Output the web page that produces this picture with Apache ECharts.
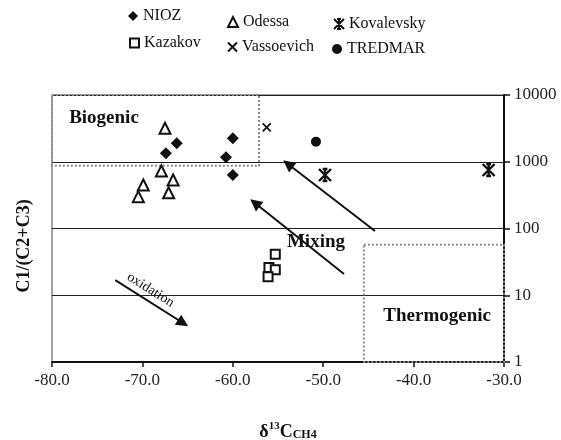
<!DOCTYPE html>
<html>
<head>
<meta charset="utf-8">
<script src="https://cdn.jsdelivr.net/npm/echarts@6/dist/echarts.min.js"></script>
<style>html,body{margin:0;padding:0;background:#fff}#c{width:561px;height:440px}</style>
</head>
<body>
<div id="c"></div>
<script>
// ---- data ----
var xTicks = [-80, -70, -60, -50, -40, -30];
var yTicks = [1, 10, 100, 1000, 10000];
var nioz = [[-66.2, 1890], [-60.0, 2245], [-67.4, 1340], [-60.75, 1166], [-60.0, 633]];
var odessa = [[-67.5, 3170], [-67.9, 727], [-66.6, 533], [-69.9, 448], [-67.1, 344], [-70.45, 300]];
var kovalevsky = [[-49.8, 633], [-31.7, 752]];
var kazakov = [[-55.3, 41], [-56.0, 26], [-55.3, 24], [-56.1, 19]];
var vassoevich = [[-56.25, 3280]];
var tredmar = [[-50.8, 2000]];
var biogenicBox = [[-80, 10000], [-57.1, 870]];
var thermogenicBox = [[-45.5, 57], [-30, 1]];
var oxidationArrow = [[-73.0, 16.9], [-65.5, 3.84]];
var mixingArrow1 = [[-47.7, 20.8], [-57.55, 241]];
var mixingArrow2 = [[-44.27, 91.8], [-53.9, 925]];
var labelsPos = {Biogenic: [-74.25, 4520], Mixing: [-50.8, 62.8], Thermogenic: [-37.4, 4.89], oxidation: [-69.1, 12.0]};

var FONT = '"Liberation Serif", "DejaVu Serif", serif';
var KOV = 'path://M0 0L10 10M10 0L0 10M5 0L5 10M3 0L7 0M3 10L7 10';
var VAS = 'path://M0 0L10 10M10 0L0 10';

var chart = echarts.init(document.getElementById('c'), null, {renderer: 'canvas'});

function legendAt(name, left, top, size) {
  return {
    data: [name], left: left, top: top, padding: 0, itemWidth: size || 10, itemHeight: size || 10, itemGap: 5,
    selectedMode: false,
    textStyle: {fontFamily: FONT, fontSize: 16, color: '#111'}
  };
}

var option = {
  animation: false,
  backgroundColor: '#fff',
  legend: [
    legendAt('NIOZ', 128, 8),
    legendAt('Odessa', 227, 14),
    legendAt('Kovalevsky', 333, 16),
    legendAt('Kazakov', 129, 35, 9),
    legendAt('Vassoevich', 227, 39, 9),
    legendAt('TREDMAR', 332, 41)
  ],
  grid: {left: 52, right: 57, top: 95, bottom: 78, show: true, borderColor: '#444', borderWidth: 1},
  xAxis: {
    type: 'value', min: -80, max: -30, interval: 10, position: 'bottom',
    axisLine: {show: true, onZero: false, lineStyle: {color: '#111', width: 2}},
    axisTick: {show: true, inside: false, length: 5, lineStyle: {color: '#111', width: 1.5}},
    axisLabel: {fontFamily: FONT, fontSize: 17, color: '#222', margin: 10,
      formatter: function (v) { return v.toFixed(1); }},
    splitLine: {show: false}
  },
  yAxis: {
    type: 'log', logBase: 10, min: 1, max: 10000, position: 'right',
    axisLine: {show: true, lineStyle: {color: '#111', width: 2}},
    axisTick: {show: true, inside: false, length: 6, lineStyle: {color: '#111', width: 1.5}},
    axisLabel: {fontFamily: FONT, fontSize: 17, color: '#222', margin: 10,
      formatter: function (v) { return String(Math.round(v)); }},
    splitLine: {show: true, lineStyle: {color: '#222', width: 1.2}},
    minorTick: {show: false}
  },
  series: [
    {
      name: 'areas', type: 'line', data: [], silent: true,
      markArea: {
        silent: true,
        itemStyle: {color: 'rgba(0,0,0,0)', borderColor: '#8a8a8a', borderWidth: 2, borderType: 'dotted'},
        data: [
          [{coord: biogenicBox[0]}, {coord: biogenicBox[1]}],
          [{coord: thermogenicBox[0]}, {coord: thermogenicBox[1]}]
        ]
      },
      markLine: {
        silent: true, symbol: ['none', 'triangle'], symbolSize: 12,
        label: {show: false},
        lineStyle: {color: '#111', width: 2, type: 'solid'},
        data: [
          [{coord: oxidationArrow[0]}, {coord: oxidationArrow[1]}],
          [{coord: mixingArrow1[0]}, {coord: mixingArrow1[1]}],
          [{coord: mixingArrow2[0]}, {coord: mixingArrow2[1]}]
        ]
      },
      markPoint: {
        silent: true, symbol: 'circle', symbolSize: 0,
        label: {show: true, position: 'inside', fontFamily: FONT, color: '#111'},
        data: [
          {coord: labelsPos.Biogenic, label: {formatter: 'Biogenic', fontSize: 19, fontWeight: 'bold'}},
          {coord: labelsPos.Mixing, label: {formatter: 'Mixing', fontSize: 19, fontWeight: 'bold'}},
          {coord: labelsPos.Thermogenic, label: {formatter: 'Thermogenic', fontSize: 19, fontWeight: 'bold'}},
          {coord: labelsPos.oxidation, label: {formatter: 'oxidation', fontSize: 14, rotate: -32}}
        ]
      }
    },
    {name: 'NIOZ', type: 'scatter', data: nioz, symbol: 'diamond', symbolSize: 12,
      itemStyle: {color: '#111', opacity: 1}},
    {name: 'Odessa', type: 'scatter', data: odessa, symbol: 'triangle', symbolSize: 11,
      itemStyle: {color: '#fff', borderColor: '#111', borderWidth: 2, opacity: 1}},
    {name: 'Kovalevsky', type: 'scatter', data: kovalevsky, symbol: KOV, symbolSize: 12,
      itemStyle: {color: 'rgba(0,0,0,0)', borderColor: '#111', borderWidth: 2.4, opacity: 1}},
    {name: 'Kazakov', type: 'scatter', data: kazakov, symbol: 'rect', symbolSize: 9,
      itemStyle: {color: '#fff', borderColor: '#111', borderWidth: 2, opacity: 1}},
    {name: 'Vassoevich', type: 'scatter', data: vassoevich, symbol: VAS, symbolSize: 8,
      itemStyle: {color: 'rgba(0,0,0,0)', borderColor: '#111', borderWidth: 1.8, opacity: 1}},
    {name: 'TREDMAR', type: 'scatter', data: tredmar, symbol: 'circle', symbolSize: 10,
      itemStyle: {color: '#111', opacity: 1}}
  ],
  graphic: [
    {type: 'text', x: 24, y: 246, rotation: Math.PI / 2,
      style: {text: 'C1/(C2+C3)', fontFamily: FONT, fontSize: 18, fontWeight: 'bold', fill: '#111',
        align: 'center', verticalAlign: 'middle'}},
    {type: 'text', x: 288, y: 431,
      style: {
        text: '{d|δ}{s|13}{c|C}{b|CH4}', align: 'center', verticalAlign: 'middle', fill: '#111',
        rich: {
          d: {fontFamily: FONT, fontSize: 18, fontWeight: 'bold', fill: '#111', lineHeight: 20, verticalAlign: 'bottom'},
          s: {fontFamily: FONT, fontSize: 11, fontWeight: 'bold', fill: '#111', lineHeight: 20, verticalAlign: 'top'},
          c: {fontFamily: FONT, fontSize: 18, fontWeight: 'bold', fill: '#111', lineHeight: 20, verticalAlign: 'bottom'},
          b: {fontFamily: FONT, fontSize: 12, fontWeight: 'bold', fill: '#111', lineHeight: 20, verticalAlign: 'bottom'}
        }
      }}
  ]
};
chart.setOption(option);
</script>
</body>
</html>
